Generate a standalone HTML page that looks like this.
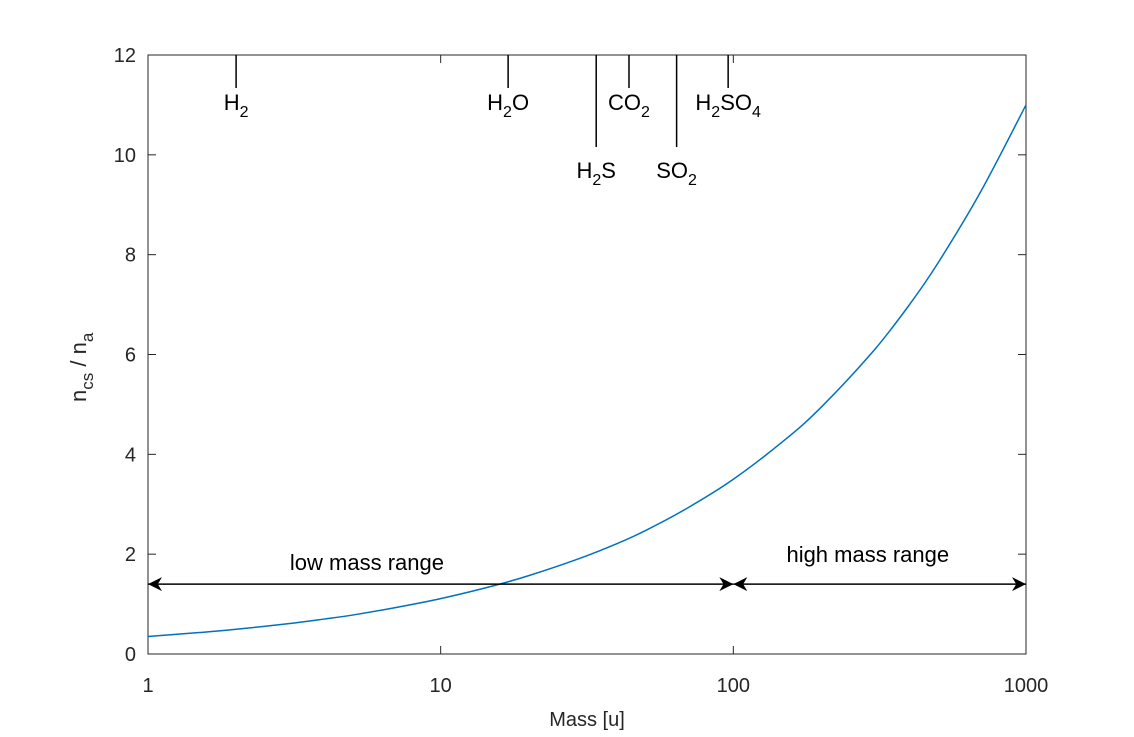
<!DOCTYPE html>
<html><head><meta charset="utf-8"><style>
body{margin:0;background:#fff;}
svg{display:block;font-family:"Liberation Sans",Arial,sans-serif;}
</style></head><body>
<svg id="chart" width="1134" height="737" viewBox="0 0 1134 737">
<defs>
<marker id="ah" viewBox="0 0 10 10" refX="10" refY="5" markerWidth="18" markerHeight="14" markerUnits="userSpaceOnUse" orient="auto-start-reverse">
<path d="M0,0 L10,5 L0,10 L3,5 Z" fill="#000"/></marker>
</defs>
<g id="layer"></g>
</svg>
<script>
const massSamples=[1,1.5,2,3,4,5,7,10,15,20,30,40,50,70,100,150,200,300,400,500,700,1000];
const ratioValues=[0.35,0.43,0.495,0.606,0.70,0.78,0.93,1.11,1.36,1.57,1.92,2.21,2.47,2.93,3.5,4.29,4.95,6.06,7.0,7.83,9.26,11.0];
const xTicks=[1,10,100,1000];
const yTicks=[0,2,4,6,8,10,12];
const speciesMass=[2,17,34,44,64,96];
const speciesBase=["H","H","H","CO","SO","H"];
const speciesSub1=["2","2","2","2","2","2"];
const speciesRest=["","O","S","","","SO"];
const speciesSub2=["","","","","","4"];
const speciesLong=[false,false,true,false,true,false];
const rangeY=1.4;
const rangeBounds=[1,100,1000];
const rangeLabels=["low mass range","high mass range"];
const rangeLabelMass=[5.6,288];

const L=148,R=1026,T=55,B=654;
const sx=m=>L+Math.log10(m)/3*(R-L);
const sy=v=>B-v/12*(B-T);
const ns="http://www.w3.org/2000/svg";
const g=document.getElementById('layer');
function mk(t,a,txt){const e=document.createElementNS(ns,t);for(const k in a)e.setAttribute(k,a[k]);if(txt!=null)e.textContent=txt;g.appendChild(e);return e;}

const frame=mk('rect',{x:L,y:T,width:R-L,height:B-T,fill:'none',stroke:'#262626','stroke-width':1});



xTicks.forEach(t=>{
 const x=sx(t);
 mk('line',{x1:x,y1:B,x2:x,y2:B-8,stroke:'#262626'});
 mk('line',{x1:x,y1:T,x2:x,y2:T+8,stroke:'#262626'});
 const lab=mk('text',{x:x,y:B+38,'text-anchor':'middle','font-size':20,fill:'#262626'},String(t));
 
 
});
yTicks.forEach(t=>{
 const y=sy(t);
 mk('line',{x1:L,y1:y,x2:L+8,y2:y,stroke:'#262626'});
 mk('line',{x1:R,y1:y,x2:R-8,y2:y,stroke:'#262626'});
 const lab=mk('text',{x:L-12,y:y+7,'text-anchor':'end','font-size':20,fill:'#262626'},String(t));
 
 
});
const xt=mk('text',{x:(L+R)/2,y:726,'text-anchor':'middle','font-size':20,fill:'#262626'},'Mass [u]');


const yt=mk('text',{x:0,y:0,'font-size':22,fill:'#262626',transform:'translate(86,402) rotate(-90)'});


yt.innerHTML='n<tspan font-size="17" dy="7">cs</tspan><tspan dy="-7"> / n</tspan><tspan font-size="17" dy="7">a</tspan>';

const P=massSamples.map((m,i)=>[sx(m),sy(ratioValues[i])]);
let d='M'+P[0][0]+','+P[0][1];
for(let i=0;i<P.length-1;i++){
 const p0=P[Math.max(0,i-1)],p1=P[i],p2=P[i+1],p3=P[Math.min(P.length-1,i+2)];
 const c1=[p1[0]+(p2[0]-p0[0])/6,p1[1]+(p2[1]-p0[1])/6];
 const c2=[p2[0]-(p3[0]-p1[0])/6,p2[1]-(p3[1]-p1[1])/6];
 d+=` C${c1[0]},${c1[1]} ${c2[0]},${c2[1]} ${p2[0]},${p2[1]}`;
}
const curve=mk('path',{d:d,fill:'none',stroke:'#0072bd','stroke-width':1.5});



speciesMass.forEach((m,i)=>{
 const x=sx(m),long=speciesLong[i];
 const ln=mk('line',{x1:x,y1:T,x2:x,y2:long?147:88,stroke:'#000','stroke-width':1.5});
 
 
 const ty=long?178:110;
 const tx=mk('text',{x:x,y:ty,'text-anchor':'middle','font-size':22,fill:'#000'});
 
 
 let h=speciesBase[i]+'<tspan font-size="16" dy="7">'+speciesSub1[i]+'</tspan>';
 if(speciesRest[i])h+='<tspan dy="-7">'+speciesRest[i]+'</tspan>';
 if(speciesSub2[i])h+='<tspan font-size="16" dy="7">'+speciesSub2[i]+'</tspan>';
 tx.innerHTML=h;
});

for(let i=0;i<rangeLabels.length;i++){
 const x1=sx(rangeBounds[i]),x2=sx(rangeBounds[i+1]),y=sy(rangeY);
 const a=mk('line',{x1:x1,y1:y,x2:x2,y2:y,stroke:'#000','stroke-width':1.5,'marker-start':'url(#ah)','marker-end':'url(#ah)'});
 
 
 const t=mk('text',{x:sx(rangeLabelMass[i]),y:y-(i?22:14),'text-anchor':'middle','font-size':22,fill:'#000'},rangeLabels[i]);
 
 
}
</script>
</body></html>
